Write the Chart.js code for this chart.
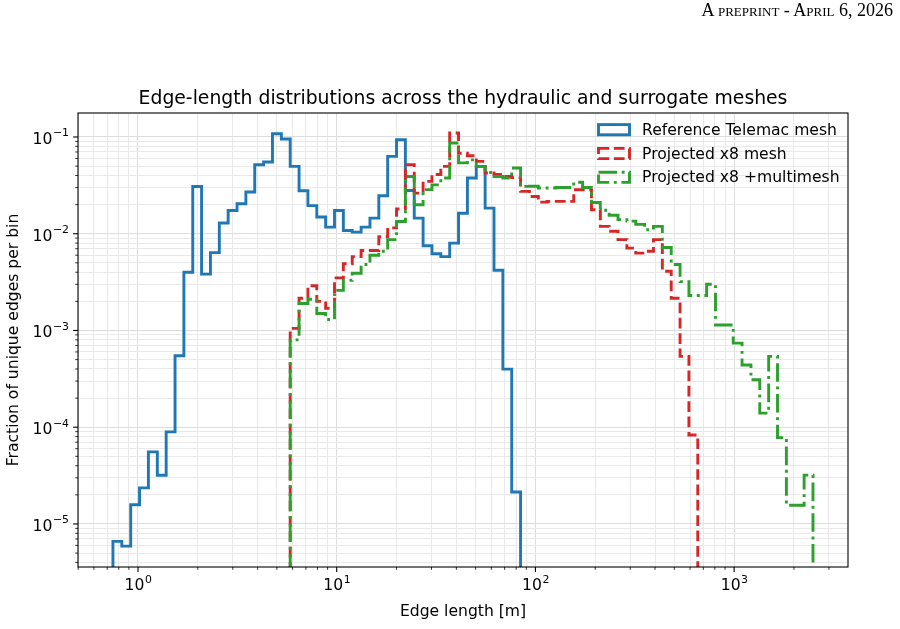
<!DOCTYPE html>
<html>
<head>
<meta charset="utf-8">
<script src="https://cdn.jsdelivr.net/npm/chart.js@4.4.1/dist/chart.umd.min.js"></script>
<style>
  html, body { margin: 0; padding: 0; background: #fff; }
  #wrap { position: relative; width: 900px; height: 629px; }
  #hdr {
    position: absolute; right: 7px; top: 0px;
    font-family: 'Liberation Serif', serif; font-size: 18px;
    font-variant: small-caps; color: #000; white-space: nowrap;
  }
  canvas { position: absolute; left: 0; top: 0; }
</style>
</head>
<body>
<div id="wrap">
  <canvas id="chart" width="900" height="629"></canvas>
  <div id="hdr">A preprint - April 6, 2026</div>
</div>
<script>
// shared log-spaced histogram bin edges [m]
const BIN_EDGES = [
  0.748, 0.829, 0.919, 1.018, 1.128, 1.251, 1.386, 1.536, 1.702, 1.886,
  2.089, 2.315, 2.566, 2.843, 3.151, 3.491, 3.868, 4.287, 4.751, 5.265,
  5.834, 6.465, 7.164, 7.939, 8.798, 9.748, 10.80, 11.97, 13.27, 14.70,
  16.29, 18.05, 20.00, 22.16, 24.56, 27.21, 30.15, 33.42, 37.03, 41.03,
  45.47, 50.39, 55.84, 61.88, 68.57, 75.97, 84.19, 93.29, 103.4, 114.6,
  126.9, 140.7, 155.9, 172.7, 191.4, 212.1, 235.0, 260.4, 288.6, 319.8,
  354.4, 392.7, 435.2, 482.3, 534.4, 592.1, 656.2, 727.1, 805.7, 892.9,
  989.5, 1096, 1215, 1346, 1492, 1653, 1832, 2030, 2250, 2493
];

// Reference Telemac mesh (bins 0..45)
const REF_FIRST_BIN = 0;
const REF_FRAC = [
  6.6e-6, 5.9e-6, 1.58e-5, 2.36e-5, 5.56e-5, 3.19e-5, 8.95e-5, 5.48e-4, 4.0e-3, 0.0308,
  3.82e-3, 6.38e-3, 0.0129, 0.0174, 0.0204, 0.0270, 0.0516, 0.0551, 0.108, 0.0953,
  0.0497, 0.0278, 0.0195, 0.0149, 0.0117, 0.0174, 0.0108, 0.0104, 0.0117, 0.0145,
  0.0247, 0.063, 0.0938, 0.028, 0.0145, 7.5e-3, 6.2e-3, 5.8e-3, 8.0e-3, 0.0163,
  0.0377, 0.0497, 0.0184, 4.2e-3, 3.99e-4, 2.14e-5
];

// Projected x8 mesh (bins 20..65)
const X8_FIRST_BIN = 20;
const X8_FRAC = [
  1.05e-3, 2.15e-3, 2.9e-3, 2.0e-3, 1.7e-3, 3.5e-3, 4.9e-3, 5.8e-3, 6.7e-3, 6.7e-3,
  9.3e-3, 0.0115, 0.018, 0.0517, 0.0263, 0.0348, 0.041, 0.0497, 0.110, 0.068,
  0.064, 0.056, 0.0424, 0.041, 0.039, 0.038, 0.0274, 0.0243, 0.0212, 0.0216,
  0.0216, 0.0216, 0.0285, 0.0285, 0.0177, 0.0119, 0.0106, 8.7e-3, 7.1e-3, 6.3e-3,
  6.6e-3, 8.7e-3, 4.1e-3, 2.15e-3, 5.4e-4, 8.3e-5
];

// Projected x8 +multimesh (bins 20..78)
const MM_FIRST_BIN = 20;
const MM_FRAC = [
  8.0e-4, 1.9e-3, 2.1e-3, 1.5e-3, 1.3e-3, 2.6e-3, 3.3e-3, 3.9e-3, 4.8e-3, 6.0e-3,
  6.6e-3, 8.7e-3, 0.0134, 0.039, 0.0199, 0.0286, 0.032, 0.0377, 0.0866, 0.054,
  0.058, 0.0497, 0.043, 0.039, 0.0377, 0.0478, 0.0309, 0.031, 0.0297, 0.0297,
  0.030, 0.030, 0.034, 0.030, 0.021, 0.0175, 0.0155, 0.014, 0.0135, 0.0125,
  0.011, 0.0119, 7.2e-3, 4.8e-3, 3.2e-3, 2.3e-3, 2.3e-3, 3.0e-3, 1.14e-3, 1.14e-3,
  7.4e-4, 4.4e-4, 3.1e-4, 1.4e-4, 5.4e-4, 7.8e-5, 1.56e-5, 1.56e-5, 3.2e-5
];

const SERIES_LABELS = ['Reference Telemac mesh', 'Projected x8 mesh', 'Projected x8 +multimesh'];
const SERIES_COLORS = ['#1f77b4', '#d62728', '#2ca02c'];

const X_RANGE = [0.499, 3741];
const Y_RANGE = [3.59e-6, 0.177];
const X_DECADES = [0.1, 1, 10, 100, 1000];
const Y_DECADES = [1e-6, 1e-5, 1e-4, 1e-3, 1e-2, 1e-1];

const FLOOR = 1e-9;   // zero count, far below the axis
const LW = 2.9;
const FONT = 'DejaVu Sans';
const TXT = 15.6;     // tick / legend / label size
const SUP_TXT = 10.9;

function isDecade(v) {
  const l = Math.log10(v);
  return Math.abs(l - Math.round(l)) < 1e-6;
}

// majors + 2..9 minors inside the range
function logTicks(decades, range) {
  const out = [];
  decades.forEach(d => {
    for (let m = 1; m <= 9; m++) {
      const v = d * m;
      if (v >= range[0] && v <= range[1]) out.push(v);
    }
  });
  return out;
}

// histogram outline (histtype='step')
function stepOutline(first, fracs) {
  const pts = [{ x: BIN_EDGES[first], y: FLOOR }];
  fracs.forEach((f, i) => {
    pts.push({ x: BIN_EDGES[first + i], y: f });
    pts.push({ x: BIN_EDGES[first + i + 1], y: f });
  });
  pts.push({ x: BIN_EDGES[first + fracs.length], y: FLOOR });
  return pts;
}

const dashes = [[], [3.7 * LW, 1.6 * LW], [6.4 * LW, 1.6 * LW, 1 * LW, 1.6 * LW]];

const datasets = [
  stepOutline(REF_FIRST_BIN, REF_FRAC),
  stepOutline(X8_FIRST_BIN, X8_FRAC),
  stepOutline(MM_FIRST_BIN, MM_FRAC)
].map((pts, i) => ({
  label: SERIES_LABELS[i],
  data: pts,
  borderColor: SERIES_COLORS[i],
  backgroundColor: 'rgba(0,0,0,0)',
  borderWidth: LW,
  borderDash: dashes[i],
  borderCapStyle: 'butt',
  borderJoinStyle: 'miter',
  pointRadius: 0,
  tension: 0,
  fill: false,
  clip: 0,
  order: 2 - i
}));

// "10" with a raised exponent, like mathtext
function drawPow(ctx, v, x, y, align) {
  const e = String(Math.round(Math.log10(v))).replace('-', '\u2212');
  ctx.font = TXT + 'px "' + FONT + '"';
  const wb = ctx.measureText('10').width;
  ctx.font = SUP_TXT + 'px "' + FONT + '"';
  const we = ctx.measureText(e).width;
  const x0 = align === 'center' ? x - (wb + we) / 2 : x - (wb + we);
  ctx.textAlign = 'left';
  ctx.textBaseline = 'alphabetic';
  ctx.font = TXT + 'px "' + FONT + '"';
  ctx.fillText('10', x0, y);
  ctx.font = SUP_TXT + 'px "' + FONT + '"';
  ctx.fillText(e, x0 + wb + 0.5, y - 7.5);
}

// spines, tick marks + labels, title, legend
const decor = {
  id: 'decor',
  afterDatasetsDraw(chart) {
    const { ctx, chartArea: a, scales } = chart;
    ctx.save();
    ctx.strokeStyle = '#000';
    ctx.fillStyle = '#000';

    scales.x.ticks.forEach(t => {
      const px = scales.x.getPixelForValue(t.value);
      const maj = isDecade(t.value);
      ctx.lineWidth = maj ? 1.1 : 0.8;
      ctx.beginPath();
      ctx.moveTo(px, a.bottom);
      ctx.lineTo(px, a.bottom + (maj ? 4.9 : 2.8));
      ctx.stroke();
      if (maj) drawPow(ctx, t.value, px, a.bottom + 23, 'center');
    });
    scales.y.ticks.forEach(t => {
      const py = scales.y.getPixelForValue(t.value);
      const maj = isDecade(t.value);
      ctx.lineWidth = maj ? 1.1 : 0.8;
      ctx.beginPath();
      ctx.moveTo(a.left, py);
      ctx.lineTo(a.left - (maj ? 4.9 : 2.8), py);
      ctx.stroke();
      if (maj) drawPow(ctx, t.value, a.left - 9.5, py + 7, 'right');
    });

    ctx.lineWidth = 1.1;
    ctx.strokeRect(a.left, a.top, a.right - a.left, a.bottom - a.top);

    // title
    ctx.font = '18.8px "' + FONT + '"';
    ctx.textAlign = 'center';
    ctx.textBaseline = 'alphabetic';
    ctx.fillText('Edge-length distributions across the hydraulic and surrogate meshes',
      (a.left + a.right) / 2, a.top - 9);

    // legend (patch handles)
    ctx.font = TXT + 'px "' + FONT + '"';
    ctx.textAlign = 'left';
    ctx.textBaseline = 'middle';
    chart.data.datasets.forEach((ds, i) => {
      const cy = 129.7 + i * 23.8;
      ctx.save();
      ctx.strokeStyle = ds.borderColor;
      ctx.lineWidth = ds.borderWidth;
      ctx.setLineDash(ds.borderDash);
      ctx.lineJoin = 'miter';
      ctx.strokeRect(598.5, cy - 5.1, 31, 10.2);
      ctx.restore();
      ctx.fillText(ds.label, 642, cy + 1);
    });
    ctx.restore();
  }
};

const gridColor = c => isDecade(c.tick.value) ? '#dcdcdc' : '#e9e9e9';

new Chart(document.getElementById('chart'), {
  type: 'line',
  data: { datasets },
  options: {
    responsive: false,
    animation: false,
    devicePixelRatio: 1,
    layout: { padding: { top: 113, right: 52, left: 0, bottom: 0 } },
    plugins: { legend: { display: false }, tooltip: { enabled: false } },
    scales: {
      x: {
        type: 'logarithmic',
        min: X_RANGE[0], max: X_RANGE[1],
        afterBuildTicks: s => { s.ticks = logTicks(X_DECADES, X_RANGE).map(v => ({ value: v })); },
        afterFit: s => { s.height = 62; },
        grid: { drawTicks: false, color: gridColor, lineWidth: 1 },
        border: { display: false },
        ticks: { display: false, autoSkip: false },
        title: {
          display: true, text: 'Edge length [m]', color: '#000',
          font: { family: FONT, size: TXT }, padding: { top: 0, bottom: 8 }
        }
      },
      y: {
        type: 'logarithmic',
        min: Y_RANGE[0], max: Y_RANGE[1],
        afterBuildTicks: s => { s.ticks = logTicks(Y_DECADES, Y_RANGE).map(v => ({ value: v })); },
        afterFit: s => { s.width = 78; },
        grid: { drawTicks: false, color: gridColor, lineWidth: 1 },
        border: { display: false },
        ticks: { display: false, autoSkip: false },
        title: {
          display: true, text: 'Fraction of unique edges per bin', color: '#000',
          font: { family: FONT, size: TXT }, padding: { top: 5, bottom: 0 }
        }
      }
    }
  },
  plugins: [decor]
});
</script>
</body>
</html>
